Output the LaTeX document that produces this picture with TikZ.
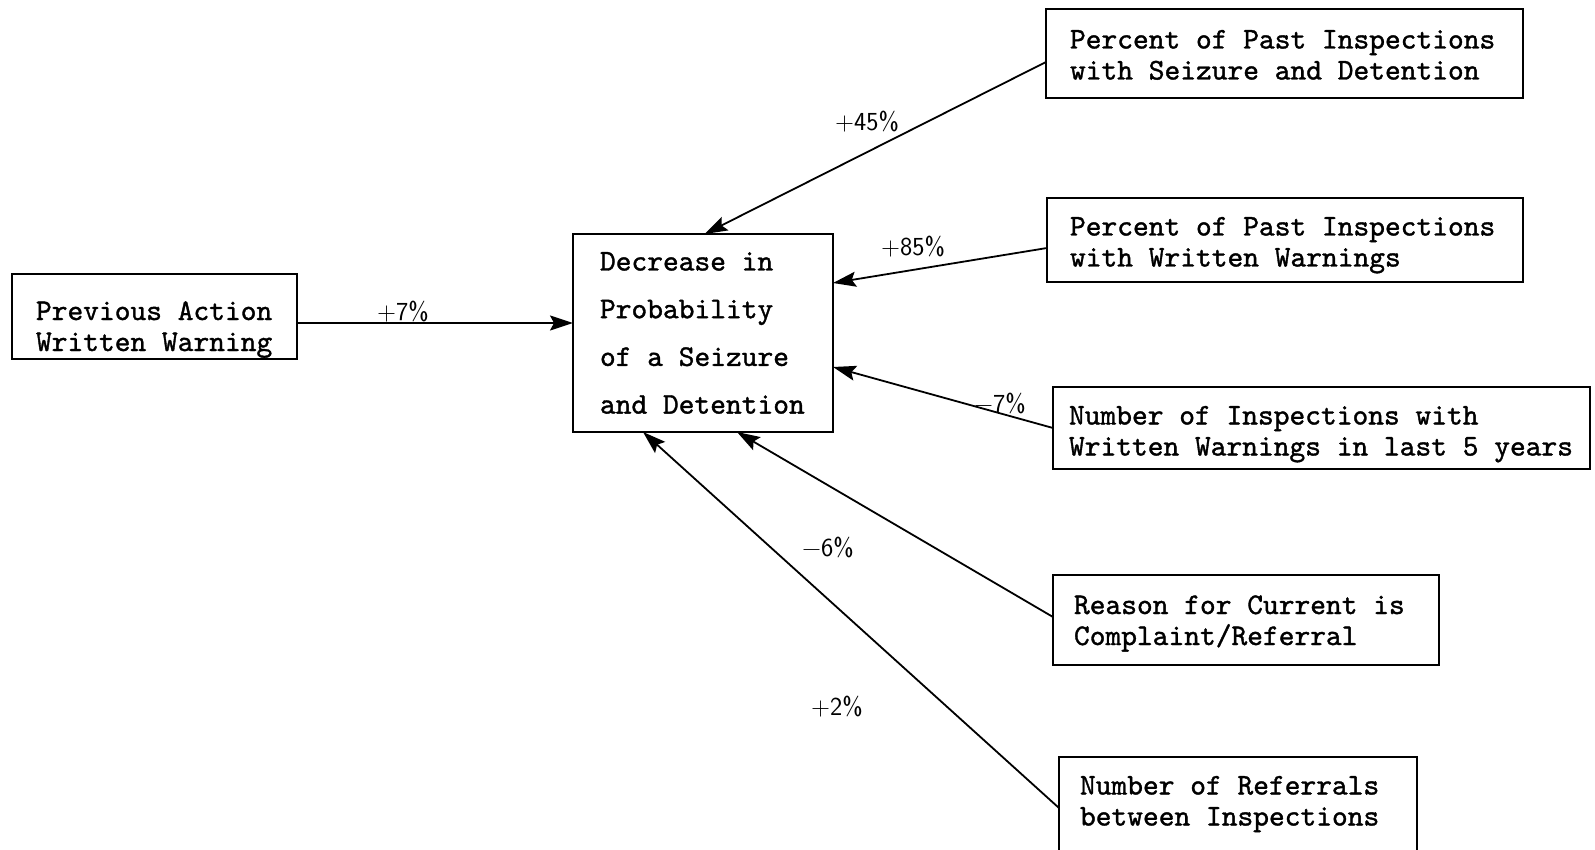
\documentclass[tikz,border=0pt]{standalone}
\usepackage{fontspec}
\usetikzlibrary{arrows.meta}
% typewriter face for the box texts, slightly heavier than the default
\newfontfamily\twfont{lmmono10-regular.otf}[FakeBold=1.2]
\newcommand\fixspace{\spaceskip=\fontcharwd\font`x\relax}
\newcommand\boxfont{\twfont\fontsize{30}{31}\selectfont\fixspace}
\newcommand\tallboxfont{\twfont\fontsize{30}{47.7}\selectfont\fixspace}
\newcommand\pctfont{\sffamily\fontsize{26}{26}\selectfont}
\begin{document}
\begin{tikzpicture}[x=1pt,y=-1pt,
  box/.style={draw, line width=2.5pt, outer sep=0pt, inner ysep=0pt,
    align=flush left, anchor=north west, font=\boxfont},
  conn/.style={line width=1.8pt,
    -{Stealth[length=23pt,width=15pt,inset=4pt]}},
  pct/.style={font=\pctfont, inner sep=0pt}]
\useasboundingbox[fill=white] (0,0) rectangle (1595,850);

% factor boxes
\node[box, inner xsep=24pt, text width=237pt, text height=46pt, text depth=39pt]
  (prev) at (12,274) {Previous Action\\Written Warning};
\node[box, font=\tallboxfont, inner xsep=27pt, text width=206pt,
  text height=36.5pt, text depth=161.5pt]
  (dec) at (573,234) {Decrease in\\Probability\\of a Seizure\\and Detention};
\node[box, inner xsep=24pt, text width=429pt, text height=39.5pt, text depth=49.5pt]
  (psd) at (1046,9) {Percent of Past Inspections\\with Seizure and Detention};
\node[box, inner xsep=23pt, text width=430pt, text height=37.5pt, text depth=46.5pt]
  (pww) at (1047,198) {Percent of Past Inspections\\with Written Warnings};
\node[box, inner xsep=16pt, text width=505pt, text height=37.5pt, text depth=44.5pt]
  (nww) at (1053,387) {Number of Inspections with\\Written Warnings in last 5 years};
\node[box, inner xsep=21pt, text width=344pt, text height=39pt, text depth=51pt]
  (rcr) at (1053,575) {Reason for Current is\\Complaint/Referral};
\node[box, inner xsep=21pt, text width=316pt, text height=37.5pt, text depth=100pt]
  (nrb) at (1059,757) {Number of Referrals\\between Inspections};

% effects
\draw[conn] ([yshift=-6.5pt]prev.east) -- ([yshift=-6.5pt]prev.east -| dec.west);
\draw[conn] ([yshift=-8.5pt]psd.west) -- ([xshift=1.5pt]dec.north);
\draw[conn] ([yshift=-8pt]pww.west) -- ([yshift=50pt]dec.east);
\draw[conn] (nww.west) -- ([yshift=-34pt]dec.east);
\draw[conn] ([yshift=3pt]rcr.west) -- ([xshift=34pt]dec.south);
\draw[conn] ([yshift=-51pt]nrb.north west) -- ([xshift=-60pt]dec.south);

% effect sizes
\node[pct] (e1) at (403,312) {+7\%};
\node[pct] (e2) at (867,122) {+45\%};
\node[pct] (e3) at (913,247) {+85\%};
\node[pct] (e4) at (1000,403) {−7\%};
\node[pct] (e5) at (828,547) {−6\%};
\node[pct] (e6) at (837,707) {+2\%};
\end{tikzpicture}
\end{document}
